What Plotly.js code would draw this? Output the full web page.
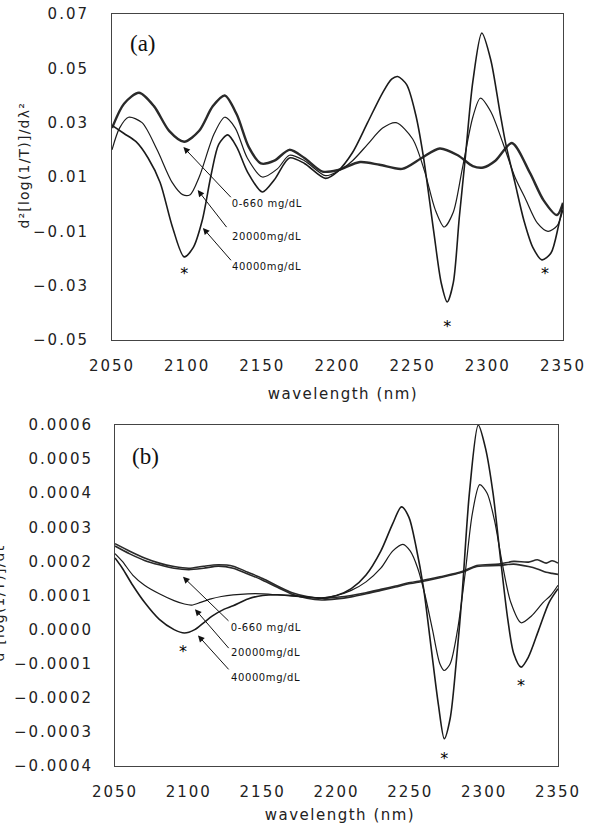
<!DOCTYPE html>
<html>
<head>
<meta charset="utf-8">
<script src="https://cdn.plot.ly/plotly-3.0.1.min.js"></script>
<style>
html,body{margin:0;padding:0;background:#fff;}
#chart{width:596px;height:828px;}
.xtick text, .ytick text, .x2tick text, .y2tick text { letter-spacing: 2px; }
g.annotation[data-index="2"] text, g.annotation[data-index="3"] text { letter-spacing: 1.5px; }
g.annotation[data-index="4"] text, g.annotation[data-index="5"] text { letter-spacing: 1.2px; }
g.annotation[data-index="9"] text, g.annotation[data-index="10"] text, g.annotation[data-index="11"] text,
g.annotation[data-index="15"] text, g.annotation[data-index="16"] text, g.annotation[data-index="17"] text { letter-spacing: 0.6px; }
</style>
</head>
<body>
<div id="chart"></div>
<script>
// ---------- Panel (a) data ----------
const wlA_a = [2050,2058,2068,2078,2088,2098,2108,2117,2125,2133,2141,2149,2158,2168,2178,2190,2200,2215,2228,2243,2256,2268,2280,2290,2297,2305,2316,2328,2337,2346,2350];
const valA_a = [0.028,0.037,0.041,0.036,0.027,0.023,0.027,0.036,0.040,0.033,0.021,0.015,0.016,0.020,0.017,0.012,0.0125,0.0155,0.0145,0.013,0.017,0.0205,0.018,0.014,0.0135,0.016,0.0225,0.0115,0.0015,-0.004,0.0005];

const wlB_a = [2050,2055,2061,2070,2080,2090,2097,2102,2108,2118,2125,2132,2140,2150,2160,2168,2178,2192,2200,2210,2220,2230,2239,2250,2258,2265,2271,2277,2283,2290,2295,2302,2310,2318,2325,2333,2340,2346,2350];
const valB_a = [0.020,0.028,0.032,0.030,0.020,0.008,0.0035,0.0035,0.010,0.026,0.032,0.028,0.017,0.010,0.013,0.018,0.016,0.0105,0.012,0.016,0.022,0.028,0.030,0.024,0.012,-0.002,-0.0084,-0.003,0.013,0.032,0.039,0.034,0.0225,0.010,0.002,-0.007,-0.010,-0.008,-0.002];

const wlC_a = [2050,2058,2066,2074,2082,2090,2098,2104,2110,2116,2121,2127,2133,2140,2150,2158,2168,2178,2192,2200,2210,2220,2230,2236,2240,2246,2252,2257,2264,2269,2273,2277,2281,2285,2290,2296,2302,2308,2312,2318,2324,2330,2336,2342,2347,2350];
const valC_a = [0.029,0.026,0.023,0.017,0.008,-0.008,-0.0194,-0.016,-0.006,0.011,0.022,0.0255,0.021,0.012,0.0045,0.009,0.017,0.015,0.0095,0.012,0.019,0.030,0.041,0.046,0.047,0.044,0.033,0.018,-0.010,-0.029,-0.036,-0.029,-0.005,0.017,0.045,0.063,0.053,0.034,0.022,0.008,-0.006,-0.016,-0.0205,-0.018,-0.008,0.000];

// ---------- Panel (b) data ----------
const wlA1_b = [2050,2060,2070,2080,2090,2100,2110,2120,2130,2140,2150,2160,2170,2180,2190,2200,2210,2220,2230,2240,2250,2258,2270,2285,2295,2310,2320,2330,2336,2342,2346,2350];
const valA1_b = [0.000252,0.00023,0.00021,0.000195,0.000185,0.00018,0.000186,0.00019,0.000186,0.000168,0.00015,0.000128,0.000108,0.000097,0.000092,0.000095,0.0001,0.000108,0.000118,0.000128,0.000138,0.000144,0.000155,0.00017,0.000188,0.000192,0.0002,0.000198,0.000205,0.000195,0.000202,0.000195];
const wlA2_b = [2050,2060,2070,2080,2090,2100,2110,2120,2130,2140,2150,2160,2170,2180,2190,2200,2210,2220,2230,2240,2250,2258,2270,2285,2295,2310,2320,2330,2336,2342,2346,2350];
const valA2_b = [0.000245,0.000222,0.000203,0.00019,0.00018,0.000176,0.00018,0.000186,0.00018,0.000163,0.000145,0.000124,0.000104,0.000092,0.000087,0.00009,0.000096,0.000105,0.000115,0.000125,0.000135,0.000141,0.000152,0.000168,0.000185,0.000188,0.000192,0.000185,0.000178,0.000168,0.000165,0.000162];

const wlB_b = [2050,2055,2062,2070,2080,2090,2097,2102,2108,2115,2122,2130,2140,2150,2160,2170,2180,2190,2200,2210,2220,2230,2238,2245,2250,2255,2260,2265,2270,2273,2277,2282,2287,2292,2297,2302,2307,2312,2318,2325,2332,2340,2345,2350];
const valB_b = [0.000223,0.0002,0.00016,0.00013,0.000105,0.000085,0.000075,0.000072,0.00008,0.00009,0.000097,0.000102,0.000105,0.000105,0.000102,0.000098,0.000095,0.000093,0.0001,0.000115,0.00014,0.00018,0.00023,0.00025,0.00023,0.00018,0.0001,0.0,-0.0001,-0.00012,-0.0001,0.0,0.00016,0.00034,0.000425,0.0004,0.00032,0.0002,0.00008,0.00002,0.00004,0.00008,0.0001,0.00013];

const wlC_b = [2050,2055,2062,2070,2080,2090,2097,2104,2110,2116,2124,2130,2140,2150,2160,2170,2180,2190,2200,2210,2220,2230,2238,2244,2249,2254,2259,2264,2269,2273,2277,2281,2285,2290,2296,2301,2306,2311,2316,2320,2325,2330,2337,2344,2350];
const valC_b = [0.00021,0.00018,0.00013,0.00008,0.00003,0.0,-0.00001,0.0,0.00002,0.00004,0.00006,0.00007,0.00009,0.0001,0.000102,0.0001,0.000095,0.000092,0.0001,0.00012,0.00016,0.00023,0.00031,0.00036,0.00033,0.00024,0.00012,-0.00005,-0.00022,-0.00032,-0.00026,-0.0001,0.0001,0.0004,0.0006,0.00053,0.0004,0.00021,0.00003,-0.00007,-0.00011,-0.00008,0.0,0.00008,0.00012];

// star markers (positions of marked minima)
const starWl_a = [2098, 2273, 2338];
const starVal_a = [-0.0262, -0.0455, -0.0262];
const starWl_b = [2096, 2273, 2325];
const starVal_b = [-0.000068, -0.000383, -0.000168];

// labels
const seriesLabels = ["0-660 mg/dL", "20000mg/dL", "40000mg/dL"];
const xTicks = [2050,2100,2150,2200,2250,2300,2350];
const yTicks_a = [0.07,0.05,0.03,0.01,-0.01,-0.03,-0.05];
const yTickText_a = ["0.07","0.05","0.03","0.01","\u22120.01","\u22120.03","\u22120.05"];
const yTicks_b = [0.0006,0.0005,0.0004,0.0003,0.0002,0.0001,0,-0.0001,-0.0002,-0.0003,-0.0004];
const yTickText_b = ["0.0006","0.0005","0.0004","0.0003","0.0002","0.0001","0.0000","\u22120.0001","\u22120.0002","\u22120.0003","\u22120.0004"];

// ---------- build ----------
const INK = '#1b1b1b';
function line(x, y, w, xa, ya, color){
  return {x:x, y:y, xaxis:xa, yaxis:ya, mode:'lines', type:'scatter',
          line:{color:color||INK, width:w, shape:'spline', smoothing:0.8}, hoverinfo:'skip', showlegend:false};
}
const starFont = {family:'DejaVu Sans', size:16, color:'#000'};
const traces = [
  line(wlA_a, valA_a, 2.4, 'x', 'y', '#2a2a2a'),
  line(wlB_a, valB_a, 1.2, 'x', 'y'),
  line(wlC_a, valC_a, 1.6, 'x', 'y'),
  line(wlA1_b, valA1_b, 1.6, 'x2', 'y2', '#2a2a2a'),
  line(wlA2_b, valA2_b, 1.6, 'x2', 'y2', '#2a2a2a'),
  line(wlB_b, valB_b, 1.2, 'x2', 'y2'),
  line(wlC_b, valC_b, 1.6, 'x2', 'y2'),
  {x:starWl_a, y:starVal_a, xaxis:'x', yaxis:'y', mode:'text', type:'scatter', text:starWl_a.map(()=>'*'),
   textposition:'middle center', textfont:starFont, showlegend:false, hoverinfo:'skip'},
  {x:starWl_b, y:starVal_b, xaxis:'x2', yaxis:'y2', mode:'text', type:'scatter', text:starWl_b.map(()=>'*'),
   textposition:'middle center', textfont:starFont, showlegend:false, hoverinfo:'skip'}
];

const W = 596, H = 828;
const px = v => v / W;
const py = v => 1 - v / H;

const tickFont = {family:'DejaVu Sans', size:15, color:'#222'};
function xax(dom, anchor){
  return {domain:dom, anchor:anchor, range:[2050,2350], tickvals:xTicks, ticktext:xTicks.map(String),
    showline:true, mirror:true, linecolor:'#444', linewidth:1, showgrid:false, zeroline:false,
    ticks:'', tickfont:tickFont, ticklabelstandoff:12, fixedrange:true};
}
function yax(dom, anchor, range, tv, tt, so){
  return {domain:dom, anchor:anchor, range:range, tickvals:tv, ticktext:tt,
    showline:true, mirror:true, linecolor:'#444', linewidth:1, showgrid:false, zeroline:false,
    ticks:'', tickfont:tickFont, ticklabelstandoff:so, fixedrange:true};
}

const lblFont = {family:'DejaVu Sans', size:10, color:'#111'};
function arrow(xa, ya, hx, hy, tx, ty){
  return {xref:xa, yref:ya, axref:xa, ayref:ya, x:hx, y:hy, ax:tx, ay:ty, text:'', showarrow:true,
          arrowhead:2, arrowsize:1.3, arrowwidth:1, arrowcolor:'#111', standoff:0, startstandoff:0};
}
function label(xa, ya, x, y, t){
  return {xref:xa, yref:ya, x:x, y:y, text:t, showarrow:false, xanchor:'left', yanchor:'middle', font:lblFont};
}
// pixel -> data helpers for panel (b) annotation anchors
const bx = p => 2050 + (p - 115) / 1.4767;
const by = p => 0.0006 - (p - 425) / 337 * 0.001;

const annotations = [
  // 0,1 panel letters
  {xref:'paper', yref:'paper', x:px(128), y:py(43), text:'(a)', showarrow:false, xanchor:'left', yanchor:'middle',
   font:{family:'Liberation Serif', size:23, color:'#111'}},
  {xref:'paper', yref:'paper', x:px(130), y:py(456), text:'(b)', showarrow:false, xanchor:'left', yanchor:'middle',
   font:{family:'Liberation Serif', size:23, color:'#111'}},
  // 2,3 x-axis titles
  {xref:'paper', yref:'paper', x:px(343), y:py(394), text:'wavelength (nm)', showarrow:false, xanchor:'center', yanchor:'middle',
   font:{family:'DejaVu Sans', size:15, color:'#222'}},
  {xref:'paper', yref:'paper', x:px(340), y:py(815), text:'wavelength (nm)', showarrow:false, xanchor:'center', yanchor:'middle',
   font:{family:'DejaVu Sans', size:15, color:'#222'}},
  // 4,5 y-axis titles
  {xref:'paper', yref:'paper', x:px(24), y:py(166), text:'d\u00b2[log(1/T)]/d\u03bb\u00b2', showarrow:false, textangle:-90,
   xanchor:'center', yanchor:'middle', font:{family:'DejaVu Sans', size:14, color:'#222'}},
  {xref:'paper', yref:'paper', x:px(-1), y:py(600), text:'d\u00b2[log(1/T)]/dt\u00b2', showarrow:false, textangle:-90,
   xanchor:'center', yanchor:'middle', font:{family:'DejaVu Sans', size:14, color:'#222'}},
  // 6-8 panel (a) arrows, 9-11 labels
  arrow('x','y', 2097.5, 0.0210, 2130, 0.0020),
  arrow('x','y', 2107, 0.0052, 2127, -0.0090),
  arrow('x','y', 2110.5, -0.0088, 2130, -0.0212),
  label('x','y', 2130.5, 0.0004, seriesLabels[0]),
  label('x','y', 2130.5, -0.0118, seriesLabels[1]),
  label('x','y', 2130.5, -0.0231, seriesLabels[2]),
  // 12-14 panel (b) arrows, 15-17 labels
  arrow('x2','y2', bx(183), by(575), bx(230), by(620)),
  arrow('x2','y2', bx(195), by(607), bx(230), by(647)),
  arrow('x2','y2', bx(198), by(633), bx(230), by(668)),
  label('x2','y2', bx(232), by(625), seriesLabels[0]),
  label('x2','y2', bx(232), by(650), seriesLabels[1]),
  label('x2','y2', bx(232), by(675), seriesLabels[2])
];

const layout = {
  width:W, height:H, margin:{l:0, r:0, t:0, b:0}, paper_bgcolor:'#fff', plot_bgcolor:'#fff',
  showlegend:false,
  xaxis: xax([px(112), px(563)], 'y'),
  yaxis: yax([py(340), py(14)], 'x', [-0.05, 0.07], yTicks_a, yTickText_a, 19),
  xaxis2: xax([px(115), px(558)], 'y2'),
  yaxis2: yax([py(766), py(425)], 'x2', [-0.0004, 0.0006], yTicks_b, yTickText_b, 18),
  annotations: annotations
};

Plotly.newPlot('chart', traces, layout, {displayModeBar:false, staticPlot:true});
</script>
</body>
</html>
